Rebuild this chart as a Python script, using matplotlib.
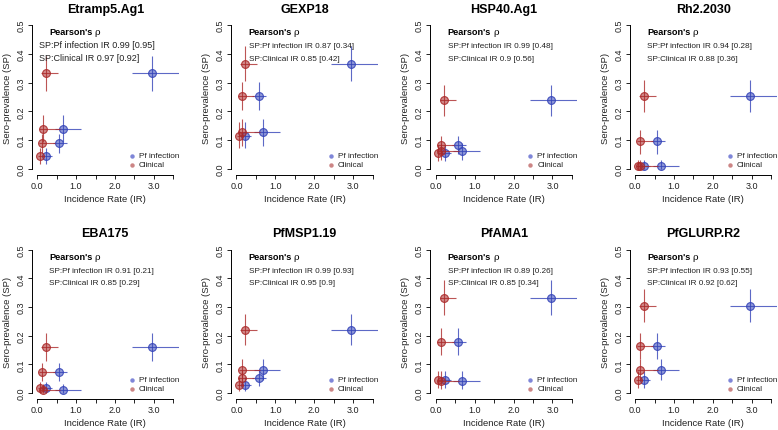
import matplotlib
matplotlib.use("Agg")
import matplotlib.pyplot as plt
from matplotlib.colors import to_rgba

plt.rcParams['font.family'] = ['Liberation Sans', 'DejaVu Sans']

# sites: A, B, C, D  (same incidence rates in every panel)
pf_ir = [2.95, 0.67, 0.57, 0.23]
pf_lo = [2.43, 0.45, 0.41, 0.12]
pf_hi = [3.80, 1.13, 0.77, 0.38]
clin_ir = [0.22, 0.14, 0.13, 0.07]
clin_lo = [0.10, 0.06, 0.04, 0.02]
clin_hi = [0.53, 0.60, 0.46, 0.17]

antigens = ["Etramp5.Ag1", "GEXP18", "HSP40.Ag1", "Rh2.2030",
            "EBA175", "PfMSP1.19", "PfAMA1", "PfGLURP.R2"]

# sero-prevalence per antigen, site order A, B, C, D
sp = [[0.333, 0.139, 0.090, 0.045],
      [0.364, 0.127, 0.252, 0.116],
      [0.238, 0.061, 0.083, 0.054],
      [0.254, 0.010, 0.098, 0.010],
      [0.159, 0.010, 0.073, 0.016],
      [0.221, 0.081, 0.051, 0.029],
      [0.333, 0.042, 0.178, 0.044],
      [0.305, 0.081, 0.165, 0.044]]
sp_lo = [[0.272, 0.095, 0.057, 0.018],
         [0.305, 0.081, 0.205, 0.073],
         [0.185, 0.030, 0.053, 0.028],
         [0.198, 0.000, 0.053, 0.000],
         [0.112, 0.000, 0.043, 0.000],
         [0.167, 0.046, 0.026, 0.008],
         [0.272, 0.015, 0.133, 0.017],
         [0.246, 0.046, 0.120, 0.017]]
sp_hi = [[0.392, 0.187, 0.121, 0.073],
         [0.426, 0.173, 0.302, 0.163],
         [0.292, 0.090, 0.116, 0.083],
         [0.310, 0.030, 0.134, 0.030],
         [0.208, 0.030, 0.105, 0.037],
         [0.276, 0.120, 0.080, 0.055],
         [0.394, 0.078, 0.226, 0.077],
         [0.362, 0.120, 0.210, 0.077]]

rho_pf = ["0.99 [0.95]", "0.87 [0.34]", "0.99 [0.48]", "0.94 [0.28]",
          "0.91 [0.21]", "0.99 [0.93]", "0.89 [0.26]", "0.93 [0.55]"]
rho_clin = ["0.97 [0.92]", "0.85 [0.42]", "0.9 [0.56]", "0.88 [0.36]",
            "0.85 [0.29]", "0.95 [0.9]", "0.85 [0.34]", "0.92 [0.62]"]

blue = "#3444b8"
red = "#ab2a2a"

W, H = 778, 431
fig = plt.figure(figsize=(W / 100, H / 100), dpi=100)

for i, name in enumerate(antigens):
    r, c = divmod(i, 4)
    left = 31.7 + 199.3 * c
    top = 20.2 if r == 0 else 245.0
    bottom = 175.8 if r == 0 else 399.7
    ax = fig.add_axes([left / W, 1 - bottom / H, 147.1 / W, (bottom - top) / H])

    y = sp[i]
    yerr = [[a - b for a, b in zip(y, sp_lo[i])], [b - a for a, b in zip(y, sp_hi[i])]]
    for xs, lo, hi, col in [(pf_ir, pf_lo, pf_hi, blue), (clin_ir, clin_lo, clin_hi, red)]:
        xerr = [[a - b for a, b in zip(xs, lo)], [b - a for a, b in zip(xs, hi)]]
        ax.errorbar(xs, y, xerr=xerr, yerr=yerr, fmt='none', ecolor=col,
                    elinewidth=0.8, alpha=0.8, capsize=0)
        ax.plot(xs, y, 'o', ms=5.6, mfc=to_rgba(col, 0.55), mec=to_rgba(col, 0.9), mew=0.8)

    ax.set_xlim(-0.14, 3.64)
    ax.set_ylim(-0.02, 0.52)
    ax.spines['top'].set_visible(False)
    ax.spines['right'].set_visible(False)
    ax.spines['left'].set_bounds(0, 0.5)
    ax.spines['bottom'].set_bounds(0, 3.5)
    for s in ['left', 'bottom']:
        ax.spines[s].set_linewidth(0.7)
    ax.set_xticks([0, 0.5, 1, 1.5, 2, 2.5, 3, 3.5])
    ax.set_xticklabels(["0.0", "", "1.0", "", "2.0", "", "3.0", ""])
    ax.set_yticks([0, 0.1, 0.2, 0.3, 0.4, 0.5])
    ax.set_yticklabels(["0.0", "0.1", "0.2", "0.3", "0.4", "0.5"])
    ax.tick_params(length=3, width=0.7, labelsize=6.5, pad=1.5, colors='#222222')
    for lab in ax.get_yticklabels():
        lab.set_rotation(90)
        lab.set_va('center')

    ax.set_title(name, fontsize=9, fontweight='bold', pad=5.5)
    ax.set_xlabel("Incidence Rate (IR)", fontsize=6.8, color='#222222')
    ax.set_ylabel("Sero-prevalence (SP)", fontsize=6.8, color='#222222')
    ax.xaxis.set_label_coords(0.5, -0.125)
    ax.yaxis.set_label_coords(-0.135, 0.5)

    tx = 0.31
    sx, fs = (0.055, 6.5) if i == 0 else (0.31, 5.9)
    t = ax.text(tx, 0.462, "Pearson's", fontsize=6.6, fontweight='bold', va='bottom')
    ax.annotate("ρ", xy=(1, 0), xycoords=t, xytext=(1.5, 0), textcoords='offset points',
                fontsize=6.8, va='bottom', family=['DejaVu Serif'])
    ax.text(sx, 0.424, "SP:Pf infection IR " + rho_pf[i], fontsize=fs, va='baseline', color='#222222')
    ax.text(sx, 0.380, "SP:Clinical IR " + rho_clin[i], fontsize=fs, va='baseline', color='#222222')

    # legend
    ax.plot([2.43], [0.046], 'o', ms=3.2, color='#7f86d8', mec='none')
    ax.plot([2.43], [0.015], 'o', ms=3.2, color='#cc8585', mec='none')
    ax.text(2.61, 0.046, "Pf infection", fontsize=5.9, va='center', color='#222222')
    ax.text(2.61, 0.015, "Clinical", fontsize=5.9, va='center', color='#222222')

fig.savefig("out.png", dpi=100)
